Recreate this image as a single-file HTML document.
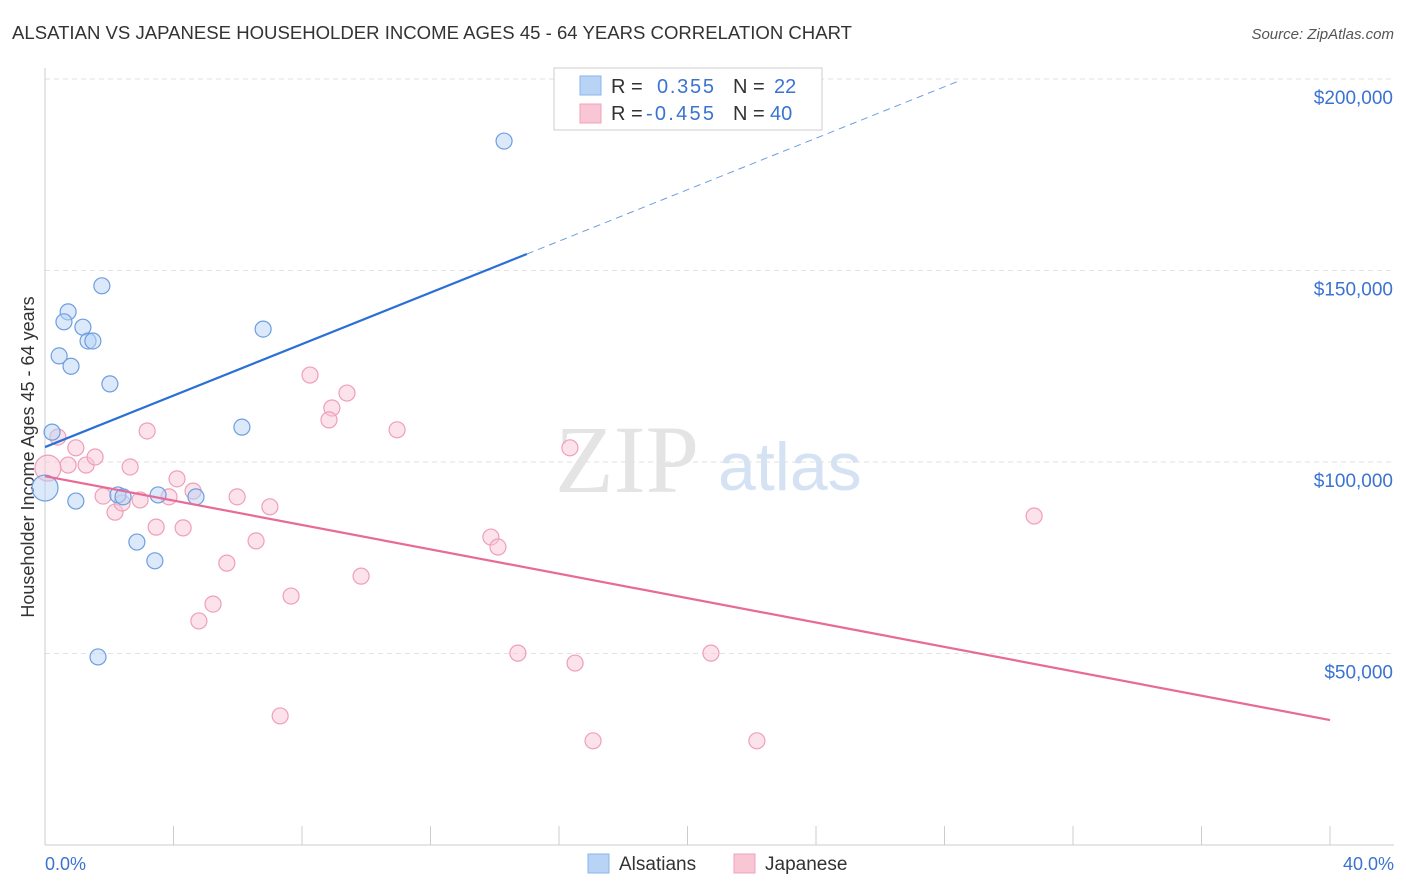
<!DOCTYPE html>
<html><head><meta charset="utf-8"><style>
body{margin:0;background:#fff;font-family:"Liberation Sans",sans-serif;}
svg{display:block}
</style></head><body>
<svg id="chart" width="1406" height="892">
<text x="12" y="39" font-size="18" fill="#333" textLength="840" lengthAdjust="spacingAndGlyphs">ALSATIAN VS JAPANESE HOUSEHOLDER INCOME AGES 45 - 64 YEARS CORRELATION CHART</text>
<text x="1394" y="39" font-size="15" fill="#555" font-style="italic" text-anchor="end">Source: ZipAtlas.com</text>
<text x="555" y="492" font-size="96" fill="#e4e4e4" font-family="Liberation Serif,serif">ZIP</text>
<text x="718" y="490" font-size="68" fill="#d4e2f4">atlas</text>
<text transform="translate(34,457) rotate(-90)" font-size="18" fill="#333" text-anchor="middle">Householder Income Ages 45 - 64 years</text>
<g id="grid"></g><g id="marks"></g>
<rect x="554" y="68" width="268" height="62" fill="#fff" stroke="#ccc"/>
<rect x="580" y="76" width="21" height="19" fill="#b8d3f5" stroke="#8ab4ea"/>
<rect x="580" y="104" width="21" height="19" fill="#f9c6d6" stroke="#f0a3bb"/>
<g font-size="20">
<text x="611" y="93" fill="#333">R =</text><text x="657" y="93" fill="#3a73d1" textLength="57">0.355</text><text x="733" y="93" fill="#333">N =</text><text x="774" y="93" fill="#3a73d1">22</text>
<text x="611" y="120" fill="#333">R =</text><text x="646" y="120" fill="#3a73d1" textLength="68">-0.455</text><text x="733" y="120" fill="#333">N =</text><text x="770" y="120" fill="#3a73d1">40</text>
</g>
<text x="45" y="870" font-size="18" fill="#3a73d1">0.0%</text>
<text x="1394" y="870" font-size="18" fill="#3a73d1" text-anchor="end">40.0%</text>
<rect x="588" y="854" width="21" height="19" fill="#b8d3f5" stroke="#8ab4ea"/>
<text x="619" y="870" font-size="19" fill="#333">Alsatians</text>
<rect x="734" y="854" width="21" height="19" fill="#f9c6d6" stroke="#f0a3bb"/>
<text x="765" y="870" font-size="19" fill="#333">Japanese</text>
</svg>
<script>
const yTicks=[50000,100000,150000,200000];
const yTickLabels=["$50,000","$100,000","$150,000","$200,000"];
const xTicks=[4,8,12,16,20,24,28,32,36,40];
const alsX=[14.29,1.77,0.72,0.59,1.18,1.34,1.49,0.44,0.81,2.02,6.79,6.13,0.22,0,0.96,2.27,2.43,3.52,4.7,2.86,3.42,1.65];
const alsY=[183800,146000,139200,136600,135200,131600,131600,127700,125000,120400,134700,109100,107800,93200,89800,91400,90900,91400,90900,79100,74200,49100];
const japX=[0.4,0.96,0.72,1.28,1.56,0.09,1.81,2.18,2.4,2.96,2.65,3.18,3.46,3.86,4.11,4.61,4.3,5.98,5.23,4.79,5.66,6.57,7.0,7.66,7.32,8.25,8.93,8.84,9.4,9.84,10.96,16.34,13.88,14.1,14.72,16.5,17.06,20.73,22.16,30.79];
const japY=[106500,103700,99200,99200,101300,98400,91100,86900,89300,90100,98700,108100,83000,90900,95600,92400,82800,90900,62900,58500,73600,79400,88300,65000,33700,122700,114100,111000,118000,70200,108400,103700,80400,77800,50100,47500,27200,50100,27200,85900];
const alsTrend=[103900,3360];
const japTrend=[96300,-1592];
const sx=v=>45+v*32.125;
const sy=v=>462-(v-100000)*191.5/50000;
const NS="http://www.w3.org/2000/svg";
function mk(t,a,p){const e=document.createElementNS(NS,t);for(const k in a)e.setAttribute(k,a[k]);p.appendChild(e);return e;}
const g=document.getElementById('grid'),m=document.getElementById('marks');
yTicks.forEach((v,i)=>{
 const l=mk('line',{x1:45,x2:1394,y1:sy(v),y2:sy(v),stroke:'#e2e2e2','stroke-dasharray':'5,4'},g);
 
 
 const t=mk('text',{x:1393,y:sy(v)+25,'font-size':19,fill:'#3a73d1','text-anchor':'end'},g);
 t.textContent=yTickLabels[i];
 
 
});
const ax=mk('line',{x1:45,x2:1394,y1:845,y2:845,stroke:'#ccc'},g);


const ay=mk('line',{x1:45,x2:45,y1:68,y2:845,stroke:'#ccc'},g);


xTicks.forEach(v=>{
 const t=mk('line',{x1:sx(v),x2:sx(v),y1:826,y2:845,stroke:'#ccc'},g);
 
 
});
function dot(x,y,fill,stroke,big){
 return mk('circle',{cx:sx(x),cy:sy(y),r:big?13:8,fill:fill,stroke:stroke,'stroke-width':1.2,'fill-opacity':0.5},m);
}
japX.forEach((x,i)=>{
 const c=dot(x,japY[i],'#f9c6d6','#ef9fb8',x<0.2);
 
 
});
alsX.forEach((x,i)=>{
 const c=dot(x,alsY[i],'#b8d3f5','#6d9ee0',x<0.1);
 
 
});
const bt=v=>alsTrend[0]+alsTrend[1]*v, pt=v=>japTrend[0]+japTrend[1]*v;
const b1=mk('line',{x1:sx(0),y1:sy(bt(0)),x2:sx(15),y2:sy(bt(15)),stroke:'#2a6fd6','stroke-width':2.2},m);


const b2=mk('line',{x1:sx(15),y1:sy(bt(15)),x2:sx(28.5),y2:sy(bt(28.5)),stroke:'#6d9ee0','stroke-width':1,'stroke-dasharray':'7,5'},m);


const p1=mk('line',{x1:sx(0),y1:sy(pt(0)),x2:sx(40),y2:sy(pt(40)),stroke:'#e86a97','stroke-width':2.2},m);


</script>
</body></html>
